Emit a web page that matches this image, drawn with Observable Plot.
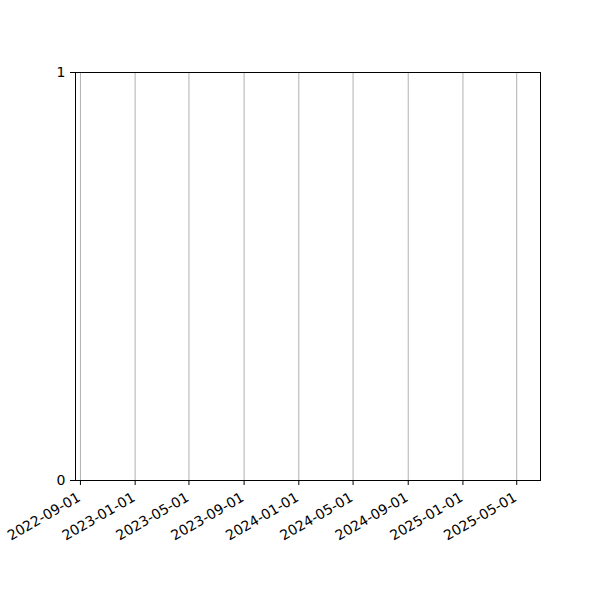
<!DOCTYPE html>
<html>
<head>
<meta charset="utf-8">
<script src="https://cdn.jsdelivr.net/npm/d3@7"></script>
<script src="https://cdn.jsdelivr.net/npm/@observablehq/plot@0.6"></script>
<style>
  html, body { margin: 0; padding: 0; background: #fff; }
  #chart { width: 600px; height: 600px; }
</style>
</head>
<body>
<div id="chart"></div>
<script>
// Data (the chart has no plotted series: only the axes and grid)
const xTickLabels = ["2022-09-01","2023-01-01","2023-05-01","2023-09-01","2024-01-01","2024-05-01","2024-09-01","2025-01-01","2025-05-01"];
const xDomainLabels = ["2022-08-21","2025-06-23"];
const yTickValues = [0, 1];
const seriesValues = [];

const parse = d3.utcParse("%Y-%m-%d");
const xTicks = xTickLabels.map(parse);
const xDomain = xDomainLabels.map(parse);

const chart = Plot.plot({
  width: 600,
  height: 600,
  marginLeft: 75,
  marginRight: 60,
  marginTop: 72,
  marginBottom: 120,
  style: {fontFamily: "'DejaVu Sans', sans-serif", fontSize: "14px", background: "#fff", color: "#000"},
  x: {type: "utc", domain: xDomain, axis: null},
  y: {domain: [0, 1], axis: null},
  marks: [
    Plot.ruleX(xTicks, {x: d => d, y1: 0, y2: 1, stroke: "#b0b0b0", strokeWidth: 1, strokeOpacity: 1}),
    Plot.frame({stroke: "#000", strokeWidth: 1}),
    Plot.axisX({ticks: xTicks, tickSize: 5, tickFormat: () => "", label: null, stroke: "#000", strokeWidth: 1, strokeOpacity: 1}),
    Plot.text(xTicks, {
      x: d => d, y: 0,
      text: (d, i) => xTickLabels[i],
      rotate: -30, textAnchor: "end", lineAnchor: "top",
      dx: -4, dy: 11, fontSize: 14, fill: "#000"
    }),
    Plot.axisY({ticks: yTickValues, tickSize: 5, tickPadding: 5, label: null, tickFormat: d => String(d), fontSize: 14, fill: "#000", stroke: "#000", strokeWidth: 1, strokeOpacity: 1}),
    Plot.dot(seriesValues, {x: "date", y: "value"})
  ]
});
document.getElementById("chart").appendChild(chart);
</script>
</body>
</html>
